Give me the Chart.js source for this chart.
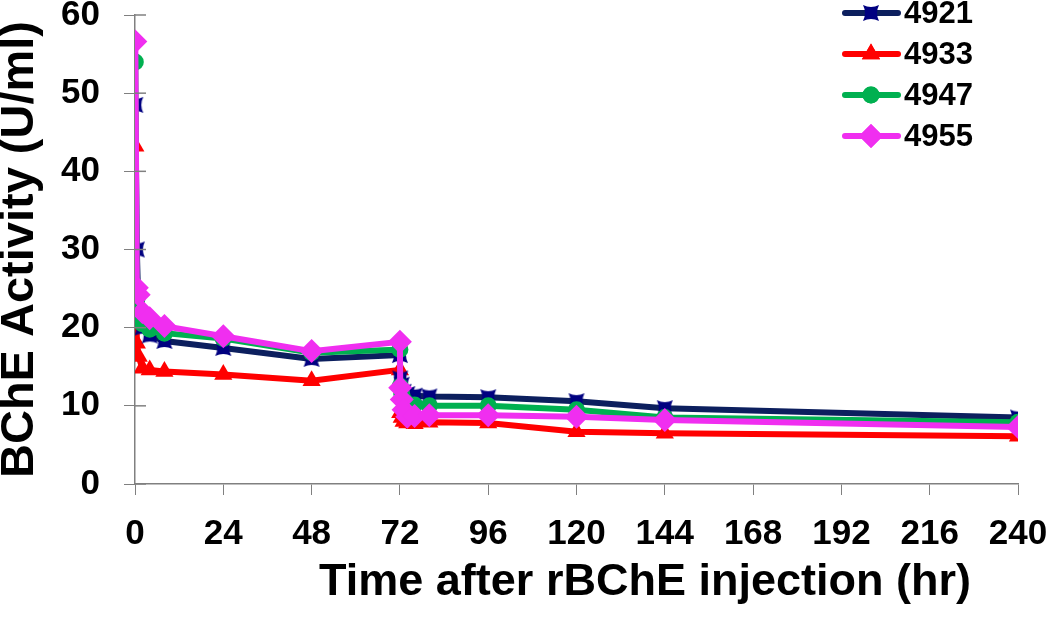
<!DOCTYPE html>
<html>
<head>
<meta charset="utf-8">
<script src="https://cdn.jsdelivr.net/npm/chart.js@4.4.0/dist/chart.umd.min.js"></script>
<style>
body{margin:0;background:#fff;}
#wrap{width:1050px;height:622px;position:relative;}
</style>
</head>
<body>
<div id="wrap"><canvas id="chart-area"></canvas></div>
<script>
// sampling times (hr) - second dose at 72 hr
var hours = [0.083, 0.5, 1, 2, 4, 8, 24, 48, 72, 72.083, 72.5, 73, 74, 76, 80, 96, 120, 144, 240];
var animalIds = ['4921', '4933', '4947', '4955'];
var act4921 = [48.5, 30.0, 21.0, 20.0, 19.0, 18.3, 17.4, 16.0, 16.5, 13.5, 12.7, 11.8, 11.5, 11.3, 11.2, 11.1, 10.6, 9.7, 8.5];
var act4933 = [43.2, 18.0, 16.3, 14.8, 14.6, 14.4, 14.0, 13.2, 14.6, 9.1, 8.5, 8.0, 7.8, 7.7, 7.9, 7.8, 6.7, 6.5, 6.1];
var act4947 = [54.0, 23.6, 21.5, 20.5, 19.8, 19.3, 18.6, 16.8, 17.2, 12.5, 11.5, 10.8, 10.3, 10.1, 10.0, 10.0, 9.5, 8.5, 7.9];
var act4955 = [56.6, 25.1, 24.2, 22.0, 21.2, 20.2, 18.9, 17.0, 18.2, 12.3, 10.8, 9.5, 8.6, 8.7, 8.8, 8.8, 8.6, 8.2, 7.3];
var xTicks = [0, 24, 48, 72, 96, 120, 144, 168, 192, 216, 240];
var yTicks = [0, 10, 20, 30, 40, 50, 60];
var xTitle = 'Time after rBChE injection (hr)';
var yTitle = 'BChE Activity (U/ml)';

// navy marker: square with pinched sides
function navy_marker(){
  var c = document.createElement('canvas');
  c.width = 20; c.height = 20;
  var g = c.getContext('2d');
  g.fillStyle = '#000080';
  g.beginPath();
  g.moveTo(2, 2);
  g.quadraticCurveTo(10, 6, 18, 2);
  g.quadraticCurveTo(14, 10, 18, 18);
  g.quadraticCurveTo(10, 14, 2, 18);
  g.quadraticCurveTo(6, 10, 2, 2);
  g.closePath();
  g.fill();
  g.fillRect(5, 5, 10, 10);
  return c;
}
var navyPt = navy_marker();

function pts(vals){
  var out = [];
  for(var i = 0; i < hours.length; i++){
    out.push({x: hours[i], y: vals[i]});
  }
  return out;
}

var styles = [
  {line: '#0c1f5e', fill: '#000080', pointStyle: navyPt, radius: 10, order: 2},
  {line: '#ff0000', fill: '#ff0000', pointStyle: 'triangle', radius: 10.5, order: 3},
  {line: '#00b050', fill: '#00b050', pointStyle: 'circle', radius: 8.5, order: 1},
  {line: '#f02ef0', fill: '#f02ef0', pointStyle: 'rectRot', radius: 12, order: 0}
];
var series = [act4921, act4933, act4947, act4955];

var datasets = [];
for(var k = 0; k < series.length; k++){
  datasets.push({
    label: animalIds[k],
    data: pts(series[k]),
    borderColor: styles[k].line,
    backgroundColor: styles[k].fill,
    pointBackgroundColor: styles[k].fill,
    pointBorderColor: styles[k].fill,
    pointBorderWidth: 0,
    pointStyle: styles[k].pointStyle,
    pointRadius: styles[k].radius,
    borderWidth: 6,
    tension: 0,
    order: styles[k].order
  });
}

var font = '"Liberation Sans", Arial, sans-serif';

// legend drawn top right: line + marker + id
var sideLegend = {
  id: 'sideLegend',
  afterDraw: function(chart){
    var ctx = chart.ctx;
    ctx.save();
    for(var i = 0; i < datasets.length; i++){
      var y = 13 + i * 41;
      ctx.strokeStyle = styles[i].line;
      ctx.lineWidth = 6;
      ctx.lineCap = 'round';
      ctx.beginPath();
      ctx.moveTo(845, y);
      ctx.lineTo(898, y);
      ctx.stroke();
      var ps = styles[i].pointStyle;
      if(typeof ps !== 'string'){
        ctx.drawImage(ps, 871 - 10, y - 10);
      } else {
        ctx.fillStyle = styles[i].fill;
        Chart.helpers.drawPoint(ctx, {pointStyle: ps, radius: styles[i].radius, borderWidth: 0, rotation: 0}, 871, y);
        ctx.fill();
      }
      ctx.fillStyle = '#000';
      ctx.font = 'bold 31px ' + font;
      ctx.textAlign = 'left';
      ctx.textBaseline = 'middle';
      ctx.fillText(animalIds[i], 904, y + 1);
    }
    // x axis title sits a bit right of the plot centre in the original
    ctx.font = 'bold 45px ' + font;
    ctx.textAlign = 'center';
    ctx.fillText(xTitle, 645, 583);
    ctx.restore();
  }
};

// small tick marks on the inner side of the y axis
var innerTicks = {
  id: 'innerTicks',
  afterDatasetsDraw: function(chart){
    var ctx = chart.ctx;
    var ys = chart.scales.y;
    var x0 = chart.chartArea.left;
    ctx.save();
    ctx.strokeStyle = '#808080';
    ctx.lineWidth = 1.5;
    for(var i = 0; i < yTicks.length; i++){
      var py = ys.getPixelForValue(yTicks[i]);
      ctx.beginPath();
      ctx.moveTo(x0, py);
      ctx.lineTo(x0 + 11, py);
      ctx.stroke();
    }
    ctx.restore();
  }
};

var config = {
  type: 'line',
  data: {datasets: datasets},
  options: {
    responsive: true,
    maintainAspectRatio: false,
    animation: false,
    layout: {padding: {top: 15, right: 32, left: 0, bottom: 0}},
    plugins: {
      legend: {display: false},
      tooltip: {enabled: false}
    },
    scales: {
      x: {
        type: 'linear',
        min: 0,
        max: 240,
        afterBuildTicks: function(axis){
          axis.ticks = xTicks.map(function(v){ return {value: v}; });
        },
        afterFit: function(scale){
          scale.height = 138;
          scale.paddingLeft = 0;
          scale.paddingRight = 0;
        },
        border: {color: '#808080', width: 1.5},
        grid: {drawOnChartArea: false, drawTicks: true, tickLength: 11, color: '#808080'},
        ticks: {color: '#000', padding: 18, maxRotation: 0, font: {family: font, size: 35, weight: 'bold'}},
        title: {display: false}
      },
      y: {
        min: 0,
        max: 60,
        afterBuildTicks: function(axis){
          axis.ticks = yTicks.map(function(v){ return {value: v}; });
        },
        afterFit: function(scale){
          scale.width = 135;
          scale.paddingTop = 0;
          scale.paddingBottom = 0;
        },
        border: {color: '#808080', width: 1.5},
        grid: {drawOnChartArea: false, drawTicks: true, tickLength: 11, color: '#808080'},
        ticks: {color: '#000', padding: 24, font: {family: font, size: 35, weight: 'bold'}},
        title: {display: true, text: yTitle, color: '#000', padding: 0, font: {family: font, size: 47, weight: 'bold', lineHeight: 0.85}}
      }
    }
  },
  plugins: [sideLegend, innerTicks]
};

var ctx = document.getElementById('chart-area').getContext('2d');
window.myLine = new Chart(ctx, config);
</script>
</body>
</html>
